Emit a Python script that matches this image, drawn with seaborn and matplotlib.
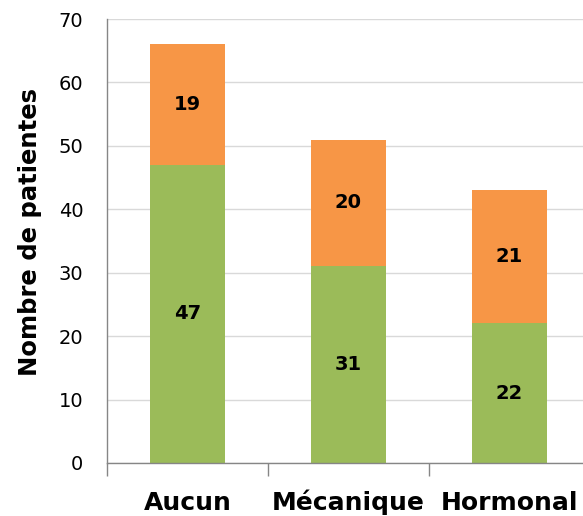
import matplotlib
matplotlib.use("Agg")
import matplotlib.pyplot as plt
import seaborn as sns
import pandas as pd

# Data
categories = ["Aucun", "Mécanique", "Hormonal"]
green_vals = [47, 31, 22]
orange_vals = [19, 20, 21]
y_ticks = [0, 10, 20, 30, 40, 50, 60, 70]

green_col = "#9BBB59"
orange_col = "#F79646"

df = pd.DataFrame({
    "cat": categories,
    "green": green_vals,
    "orange": orange_vals,
})
df["total"] = df["green"] + df["orange"]

sns.set_style("white")
plt.rcParams["font.family"] = ["DejaVu Sans"]

fig = plt.figure(figsize=(5.83, 5.16), dpi=100)
ax = fig.add_axes([107 / 583, 1 - 463 / 516, 483 / 583, 444 / 516])

# totals in orange, green drawn over
sns.barplot(data=df, x="cat", y="total", color=orange_col, saturation=1,
            width=0.46, ax=ax, linewidth=0)
sns.barplot(data=df, x="cat", y="green", color=green_col, saturation=1,
            width=0.46, ax=ax, linewidth=0)

# segment labels
for i, row in df.iterrows():
    ax.text(i, row["green"] / 2, str(row["green"]), ha="center", va="center",
            fontsize=14, fontweight="bold", color="black")
    ax.text(i, row["green"] + row["orange"] / 2, str(row["orange"]),
            ha="center", va="center", fontsize=14, fontweight="bold",
            color="black")

ax.set_ylim(0, 70)
ax.set_xlim(-0.5, 2.5)
ax.set_yticks(y_ticks)
ax.yaxis.grid(True, color="#D9D9D9", linewidth=1)
ax.set_axisbelow(True)

for s in ["top", "right"]:
    ax.spines[s].set_visible(False)
for s in ["left", "bottom"]:
    ax.spines[s].set_color("#868686")
    ax.spines[s].set_linewidth(1)

ax.tick_params(axis="y", length=0, pad=17, labelsize=14, labelcolor="black")
ax.tick_params(axis="x", which="major", length=0, pad=34, labelsize=18,
               labelcolor="black")
for lab in ax.get_xticklabels():
    lab.set_fontweight("bold")
    lab.set_verticalalignment("baseline")

# category boundary ticks
ax.set_xticks([-0.5, 0.5, 1.5, 2.5], minor=True)
ax.tick_params(axis="x", which="minor", bottom=True, length=9, width=1,
               color="#868686", direction="out")

ax.set_xlabel("")
ax.set_ylabel("Nombre de patientes", fontsize=17.5, fontweight="bold",
              color="black")
ax.yaxis.set_label_coords(-0.134, 0.52)

fig.savefig("out.png", dpi=100)
